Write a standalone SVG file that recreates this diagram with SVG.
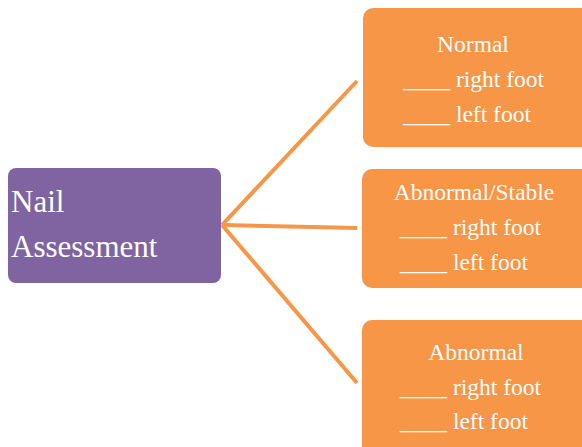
<svg xmlns="http://www.w3.org/2000/svg" width="582" height="447" viewBox="0 0 582 447">
<style>
.conn{stroke:#F79646;stroke-width:4;fill:none;stroke-linecap:butt}
.org{fill:#F79646}
.s{font-size:23.5px}
.c{text-anchor:middle}
.b{font-size:31px}
</style>
<rect width="582" height="447" fill="#FFFFFF"/>
<g id="connectors">
<line class="conn" x1="222" y1="225" x2="357" y2="81"/>
<line class="conn" x1="222" y1="225" x2="357" y2="228"/>
<line class="conn" x1="222" y1="225" x2="357" y2="383"/>
</g>
<g font-family="Liberation Serif, Times New Roman, serif" fill="#FFFFFF">
<g id="nail-assessment">
<rect x="8" y="168" width="213" height="115" rx="8" fill="#8064A2"/>
<text class="b" x="11" y="212">Nail</text>
<text class="b" x="11" y="257">Assessment</text>
</g>
<g id="normal">
<rect class="org" x="363" y="8" width="230" height="139" rx="10"/>
<text class="s c" x="473" y="52">Normal</text>
<text class="s" x="403" y="87">____ right foot</text>
<text class="s" x="403" y="122">____ left foot</text>
</g>
<g id="abnormal-stable">
<rect class="org" x="362" y="169" width="231" height="119" rx="10"/>
<text class="s c" x="474" y="200">Abnormal/Stable</text>
<text class="s" x="400" y="235">____ right foot</text>
<text class="s" x="400" y="270">____ left foot</text>
</g>
<g id="abnormal">
<rect class="org" x="362" y="320" width="231" height="140" rx="10"/>
<text class="s c" x="476" y="360">Abnormal</text>
<text class="s" x="400" y="395">____ right foot</text>
<text class="s" x="400" y="429">____ left foot</text>
</g>
</g>
</svg>
